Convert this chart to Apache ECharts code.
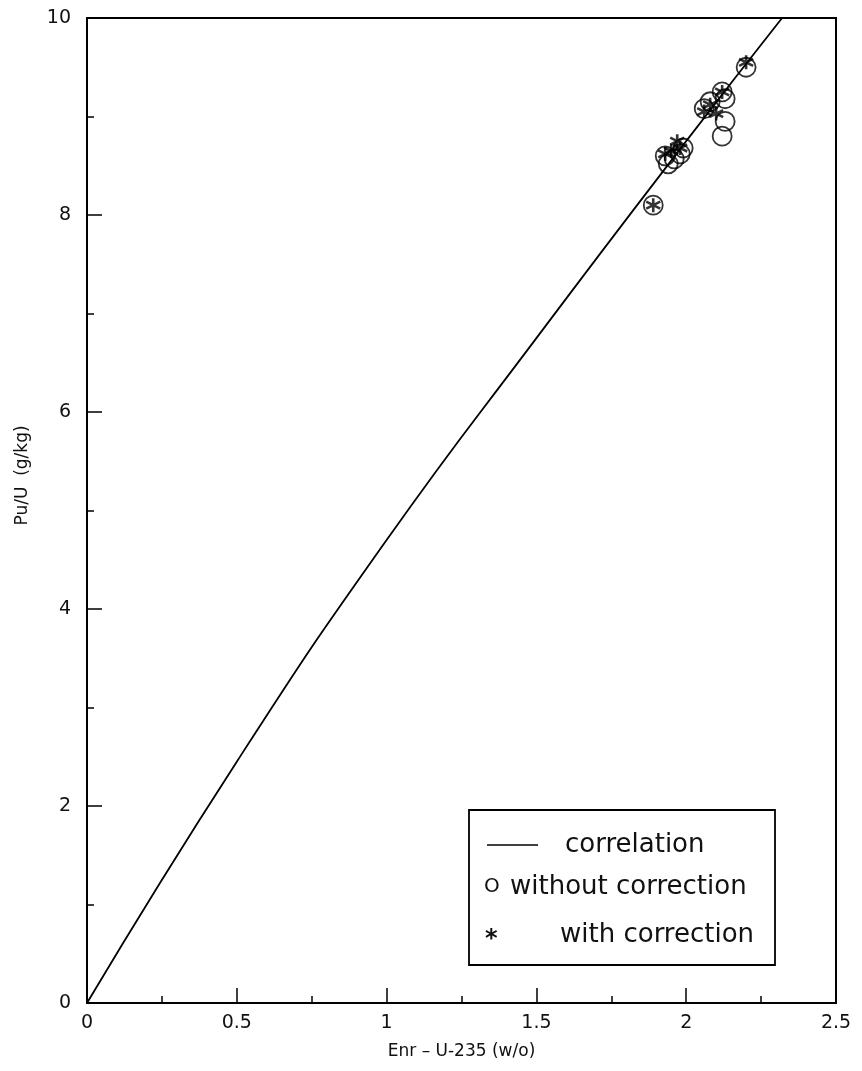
<!DOCTYPE html>
<html>
<head>
<meta charset="utf-8">
<script src="https://cdn.jsdelivr.net/npm/echarts@6/dist/echarts.min.js"></script>
<style>html,body{margin:0;padding:0;background:#fff}#c{width:862px;height:1071px}</style>
</head>
<body>
<div id="c"></div>
<script>
// Correlation curve (Enr w/o, Pu/U g/kg)
var corrX = [0, 0.5, 1.0, 1.5, 2.0, 2.32];
var corrY = [0, 2.45, 4.7, 6.75, 8.75, 10.0];
// Without correction (circles)
var woX = [1.89, 1.93, 1.94, 1.96, 1.98, 1.99, 2.06, 2.08, 2.12, 2.13, 2.13, 2.12, 2.20];
var woY = [8.10, 8.60, 8.52, 8.57, 8.62, 8.68, 9.08, 9.15, 8.80, 8.95, 9.18, 9.25, 9.50];
// With correction (asterisks)
var wcX = [1.89, 1.93, 1.95, 1.97, 1.98, 2.06, 2.08, 2.10, 2.12, 2.20];
var wcY = [8.10, 8.62, 8.65, 8.75, 8.68, 9.05, 9.12, 9.03, 9.25, 9.55];
var xTicks = ['0', '0.5', '1', '1.5', '2', '2.5'];
var yTicks = ['0', '2', '4', '6', '8', '10'];

function zip(a, b) { return a.map(function (v, i) { return [v, b[i]]; }); }
var font = 'DejaVu Sans';
var star = 'path://M0,-10L0,10M-8.66,-5L8.66,5M-8.66,5L8.66,-5';

var chart = echarts.init(document.getElementById('c'));
chart.setOption({
  animation: false,
  backgroundColor: '#fff',
  grid: { left: 87, right: 26, top: 18, bottom: 68, show: true, borderColor: '#000', borderWidth: 2, backgroundColor: 'transparent' },
  xAxis: {
    type: 'value', min: 0, max: 2.5, interval: 0.5,
    name: 'Enr – U-235 (w/o)', nameLocation: 'middle', nameGap: 40,
    nameTextStyle: { fontFamily: font, fontSize: 17, color: '#111' },
    axisLine: { show: true, lineStyle: { color: '#000', width: 2 } },
    axisTick: { show: true, inside: true, length: 15, lineStyle: { color: '#000', width: 1.5 } },
    minorTick: { show: true, splitNumber: 2, length: 7, lineStyle: { color: '#000', width: 1.5 } },
    splitLine: { show: false },
    axisLabel: { fontFamily: font, fontSize: 19, color: '#111', margin: 11,
      formatter: function (v) { var i = Math.round(v / 0.5); return xTicks[i]; } }
  },
  yAxis: {
    type: 'value', min: 0, max: 10, interval: 2,
    name: 'Pu/U  (g/kg)', nameLocation: 'middle', nameGap: 56,
    nameTextStyle: { fontFamily: font, fontSize: 17, color: '#111', padding: [0, 0, 0, 70] },
    axisLine: { show: true, lineStyle: { color: '#000', width: 2 } },
    axisTick: { show: true, inside: true, length: 15, lineStyle: { color: '#000', width: 1.5 } },
    minorTick: { show: true, splitNumber: 2, length: 7, lineStyle: { color: '#000', width: 1.5 } },
    splitLine: { show: false },
    axisLabel: { fontFamily: font, fontSize: 19, color: '#111', margin: 16,
      formatter: function (v) { var i = Math.round(v / 2); return yTicks[i]; } }
  },
  series: [
    { name: 'correlation', type: 'line', data: zip(corrX, corrY), smooth: true, showSymbol: false,
      lineStyle: { color: '#000', width: 1.8 } },
    { name: 'without correction', type: 'scatter', data: zip(woX, woY), symbol: 'circle', symbolSize: 19,
      itemStyle: { color: 'transparent', borderColor: '#000', borderWidth: 1.8 } },
    { name: 'with correction', type: 'scatter', data: zip(wcX, wcY), symbol: star, symbolSize: 14,
      itemStyle: { color: 'transparent', borderColor: '#000', borderWidth: 2.6 } }
  ],
  graphic: [
    { type: 'rect', shape: { x: 469, y: 810, width: 306, height: 155 },
      style: { fill: '#fff', stroke: '#000', lineWidth: 1.8 } },
    { type: 'line', shape: { x1: 487, y1: 845, x2: 538, y2: 845 }, style: { stroke: '#000', lineWidth: 1.5 } },
    { type: 'text', x: 565, y: 845, style: { text: 'correlation', font: '26px "DejaVu Sans"', fill: '#111', verticalAlign: 'middle' } },
    { type: 'text', x: 484, y: 887, style: { text: 'O', font: '20px "DejaVu Sans"', fill: '#111', verticalAlign: 'middle' } },
    { type: 'text', x: 510, y: 887, style: { text: 'without correction', font: '26px "DejaVu Sans"', fill: '#111', verticalAlign: 'middle' } },
    { type: 'text', x: 485, y: 940, style: { text: '*', font: 'bold 24px "DejaVu Sans"', fill: '#111', verticalAlign: 'middle' } },
    { type: 'text', x: 560, y: 935, style: { text: 'with correction', font: '26px "DejaVu Sans"', fill: '#111', verticalAlign: 'middle' } }
  ]
});
</script>
</body>
</html>
